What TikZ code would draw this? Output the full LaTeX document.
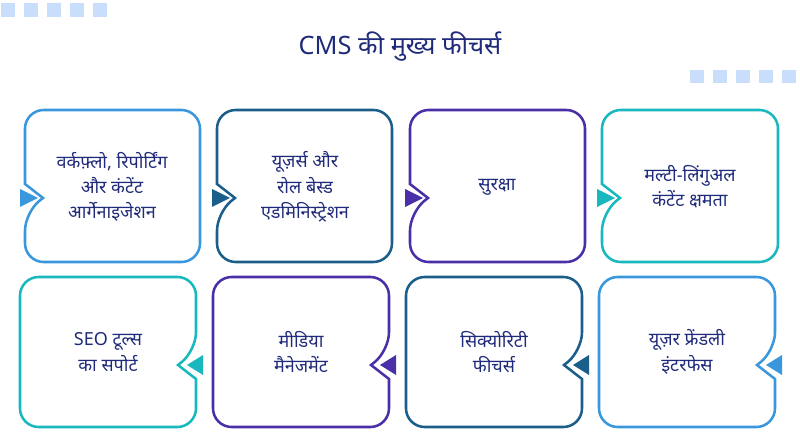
\documentclass[tikz,border=0pt]{standalone}
\usepackage{fontspec}
\setmainfont[Script=Devanagari]{Noto Sans}
\definecolor{cA}{HTML}{3A97DC}
\definecolor{cB}{HTML}{1B5E8A}
\definecolor{cC}{HTML}{4A2FA8}
\definecolor{cD}{HTML}{19B8BE}
\definecolor{txt}{HTML}{1F2A7A}
\definecolor{sq}{HTML}{C9DEFA}
\newcommand{\topbox}[5]{% xL xR y1 y2 color
 \draw[#5,line width=1.9pt,rounded corners=14] (#1,198-14) -- (#1,#3) -- (#2,#3) -- (#2,#4) -- (#1,#4) -- (#1,198+14) [sharp corners] -- (#1+18,198) -- cycle;
 \fill[#5] (#1-5,198-9) -- (#1+13,198) -- (#1-5,198+9) -- cycle;}
\newcommand{\botbox}[5]{%
 \draw[#5,line width=1.9pt,rounded corners=14] (#2,365+14) -- (#2,#4) -- (#1,#4) -- (#1,#3) -- (#2,#3) -- (#2,365-14) [sharp corners] -- (#2-18,365) -- cycle;
 \fill[#5] (#2+7,365-10) -- (#2-9,365) -- (#2+7,365+10) -- cycle;}
\begin{document}
\begin{tikzpicture}[x=0.75pt,y=-0.75pt,
  lbl/.style={text=txt,font=\fontsize{13.5}{19}\selectfont,align=center}]
\useasboundingbox (0,0) rectangle (800,445);
\foreach \i in {0,...,4}{
 \fill[sq] (1+23*\i,3) rectangle ++(14,14);
 \fill[sq] (690+23*\i,70) rectangle ++(14,13);}
\node[text=txt,font=\fontsize{19}{22}\selectfont] (title) at (400,47) {CMS की मुख्य फीचर्स};
\topbox{25}{200}{110}{262}{cA}
\topbox{217}{392}{110}{262}{cB}
\topbox{410}{585}{110}{262}{cC}
\topbox{602}{778}{110}{262}{cD}
\botbox{20}{196}{277}{427}{cD}
\botbox{213}{389}{277}{427}{cC}
\botbox{406}{582}{277}{427}{cB}
\botbox{599}{775}{277}{427}{cA}
\node[lbl] (t1) at (112,187) {वर्कफ़्लो, रिपोर्टिंग\\और कंटेंट\\आर्गेनाइजेशन};
\node[lbl] (t2) at (305,187) {यूज़र्स और\\रोल बेस्ड\\एडमिनिस्ट्रेशन};
\node[lbl] (t3) at (497,187) {सुरक्षा};
\node[lbl] (t4) at (690,187) {मल्टी-लिंगुअल\\कंटेंट क्षमता};
\node[lbl] (b1) at (108,352) {SEO टूल्स\\का सपोर्ट};
\node[lbl] (b2) at (301,352) {मीडिया\\मैनेजमेंट};
\node[lbl] (b3) at (494,352) {सिक्योरिटी\\फीचर्स};
\node[lbl] (b4) at (687,352) {यूज़र फ्रेंडली\\इंटरफेस};
\end{tikzpicture}
\end{document}
